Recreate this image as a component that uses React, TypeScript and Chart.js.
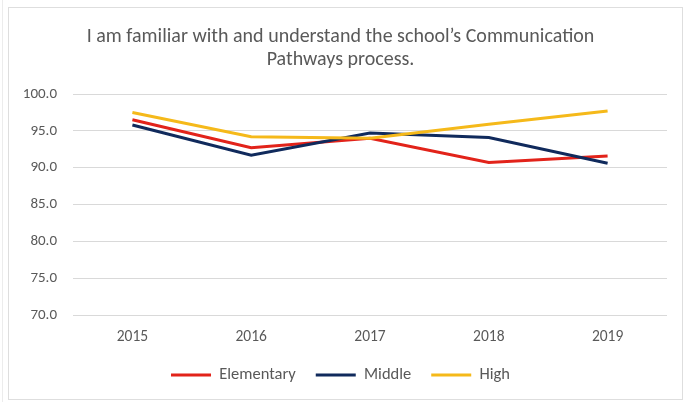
import React, { useEffect, useRef } from "react";
import { Chart, registerables } from "chart.js";

Chart.register(...registerables);

const categories = ["2015", "2016", "2017", "2018", "2019"];
const elementary = [96.5, 92.7, 94.0, 90.7, 91.6];
const middle = [95.8, 91.7, 94.7, 94.1, 90.6];
const high = [97.5, 94.2, 94.0, 95.9, 97.7];
const titleLines = [
  "I am familiar with and understand the school\u2019s Communication",
  "Pathways process.",
];

const FONT = "Carlito, Calibri, Lato, sans-serif";
const GREY = "#595959";

const framePlugin = {
  id: "frame",
  beforeDraw(chart: any) {
    const ctx = chart.ctx;
    ctx.save();
    ctx.fillStyle = "#ffffff";
    ctx.fillRect(0, 0, chart.width, chart.height);
    ctx.strokeStyle = "#dedede";
    ctx.lineWidth = 1;
    ctx.strokeRect(8.5, 7.5, 674, 392);
    ctx.strokeStyle = "#ececec";
    ctx.beginPath();
    ctx.moveTo(2.5, 0);
    ctx.lineTo(2.5, chart.height);
    ctx.stroke();
    ctx.restore();
  },
};

export default function App() {
  const ref = useRef<HTMLCanvasElement | null>(null);

  useEffect(() => {
    document.body.style.margin = "0";
    const canvas = ref.current;
    if (!canvas) return;
    const mk = (label: string, data: number[], color: string, order: number) => ({
      label,
      data,
      borderColor: color,
      backgroundColor: color,
      borderWidth: 3,
      pointRadius: 0,
      tension: 0,
      order,
    });
    const chart = new Chart(canvas, {
      type: "line",
      data: {
        labels: categories,
        datasets: [
          mk("Elementary", elementary, "#e2231a", 2),
          mk("Middle", middle, "#102a5c", 1),
          mk("High", high, "#f5b91a", 0),
        ],
      },
      options: {
        animation: false,
        responsive: false,
        maintainAspectRatio: false,
        layout: { padding: { left: 14, right: 17, top: 0, bottom: 8.75 } },
        plugins: {
          tooltip: { enabled: false },
          title: {
            display: true,
            text: titleLines,
            color: GREY,
            font: { family: FONT, size: 20, weight: "normal", lineHeight: 1.15 },
            padding: { top: 25.5, bottom: 22.5 },
          },
          legend: {
            position: "bottom",
            labels: {
              boxWidth: 40,
              boxHeight: 3,
              padding: 20,
              color: GREY,
              font: { family: FONT, size: 16.5 },
              generateLabels: (c: any) =>
                c.data.datasets.map((ds: any, i: number) => ({
                  text: ds.label,
                  fillStyle: ds.borderColor,
                  strokeStyle: ds.borderColor,
                  lineWidth: 0,
                  hidden: false,
                  datasetIndex: i,
                  fontColor: GREY,
                })),
            },
          },
        },
        scales: {
          x: {
            offset: true,
            grid: { display: false },
            border: { display: false },
            ticks: { color: GREY, font: { family: FONT, size: 15.5 }, padding: 4.7 },
            afterFit: (s: any) => {
              s.height = 31.75;
            },
          },
          y: {
            min: 70,
            max: 100,
            border: { display: false },
            grid: { color: "#d9d9d9", drawTicks: false, lineWidth: 1 },
            ticks: {
              stepSize: 5,
              color: GREY,
              padding: 16,
              font: { family: FONT, size: 15 },
              callback: (v: any) => Number(v).toFixed(1),
            },
            afterFit: (s: any) => {
              s.width = 59;
            },
          },
        },
      },
      plugins: [framePlugin],
    } as any);
    return () => chart.destroy();
  }, []);

  return (
    <div style={{ width: 684, height: 402 }}>
      <canvas ref={ref} width={684} height={402} style={{ display: "block" }} />
    </div>
  );
}
